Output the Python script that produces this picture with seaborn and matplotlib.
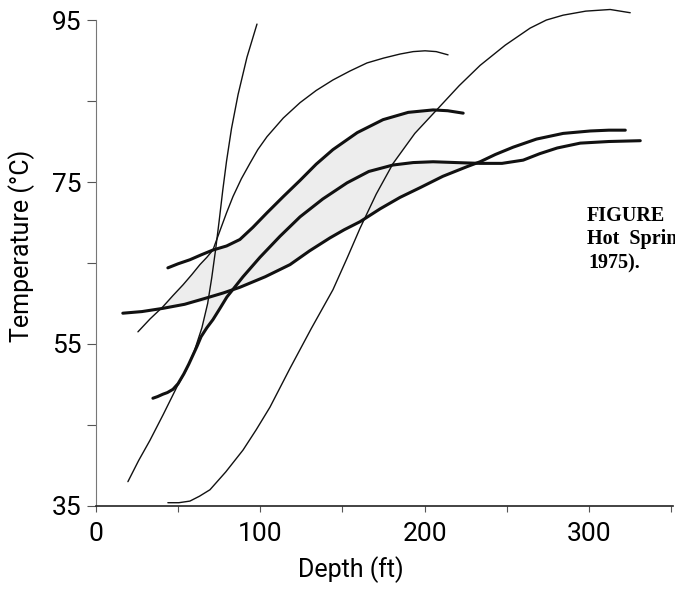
import numpy as np
import pandas as pd
import matplotlib
matplotlib.use('Agg')
import matplotlib.pyplot as plt
from matplotlib.ticker import FixedLocator, MultipleLocator
import seaborn as sns

# temperature profiles (depth ft, temperature C)
steep_x = [19.5, 26.0, 32.9, 41.0, 49.3, 55.0, 60.0, 64.5, 68.0, 70.5, 72.8, 75.0, 77.2, 79.5, 82.5, 86.5, 91.9, 98.0]
steep_y = [38.0, 40.6, 43.1, 46.3, 49.7, 51.8, 54.2, 57.0, 60.0, 63.2, 66.6, 70.2, 74.0, 77.6, 81.6, 85.8, 90.4, 94.5]

arc_x = [25.6, 33.0, 40.8, 47.0, 53.0, 58.5, 63.3, 67.5, 71.2, 75.5, 79.5, 83.4, 88.5, 93.7, 98.5, 104.1,
         114.0, 124.2, 134.0, 144.2, 154.5, 164.9, 175.0, 185.0, 193.0, 200.2, 207.0, 214.2]
arc_y = [56.5, 58.1, 59.6, 61.0, 62.3, 63.6, 64.8, 65.7, 66.6, 69.0, 71.2, 73.2, 75.4, 77.3, 79.0, 80.6,
         82.9, 84.8, 86.3, 87.6, 88.7, 89.7, 90.3, 90.8, 91.1, 91.2, 91.1, 90.7]

deep_x = [43.8, 50.5, 57.2, 63.0, 69.4, 79.0, 89.5, 97.5, 105.9, 112.0, 118.1, 131.0, 144.2, 152.8, 160.7,
          170.5, 180.8, 194.0, 208.2, 221.0, 233.7, 249.0, 264.1, 274.0, 284.2, 298.0, 312.8, 325.0]
deep_y = [35.4, 35.4, 35.6, 36.2, 37.0, 39.2, 41.9, 44.4, 47.2, 49.6, 52.0, 56.9, 61.7, 65.6, 69.3,
          73.5, 77.3, 81.0, 84.1, 86.9, 89.4, 91.9, 94.0, 95.0, 95.6, 96.1, 96.3, 95.9]

top_x = [43.8, 50.0, 57.2, 64.0, 71.2, 79.5, 87.6, 95.5, 104.1, 114.0, 124.2, 134.0, 144.2, 159.0, 174.7,
         190.0, 205.1, 214.0, 223.4]
top_y = [64.4, 64.9, 65.4, 66.0, 66.6, 67.1, 67.9, 69.4, 71.2, 73.2, 75.2, 77.2, 79.0, 81.1, 82.7,
         83.6, 83.9, 83.8, 83.5]

mid_x = [34.7, 37.5, 40.8, 43.5, 46.9, 50.0, 53.5, 56.5, 59.0, 61.5, 64.0, 67.5, 71.2, 75.5, 79.7, 89.5, 99.8,
         112.0, 124.2, 138.0, 152.8, 166.0, 180.8, 193.0, 205.1, 219.0, 233.7, 247.0, 259.9, 270.0, 280.6,
         294.6, 312.0, 331.1]
mid_y = [48.3, 48.5, 48.8, 49.0, 49.4, 50.1, 51.3, 52.5, 53.6, 54.7, 55.9, 57.0, 58.0, 59.4, 60.8, 63.3, 65.7,
         68.3, 70.7, 72.9, 74.9, 76.3, 77.1, 77.4, 77.5, 77.4, 77.3, 77.3, 77.7, 78.5, 79.2,
         79.8, 80.0, 80.1]

low_x = [16.4, 28.0, 40.8, 54.0, 67.6, 77.5, 87.6, 103.0, 118.1, 130.0, 142.4, 151.0, 160.7, 173.0, 185.0,
         197.2, 211.0, 225.8, 233.7, 243.0, 253.8, 268.0, 284.2, 300.7, 312.0, 322.0]
low_y = [58.8, 59.0, 59.4, 59.9, 60.7, 61.3, 62.0, 63.3, 64.8, 66.5, 68.1, 69.1, 70.1, 71.7, 73.1,
         74.3, 75.7, 76.9, 77.5, 78.4, 79.3, 80.3, 81.0, 81.3, 81.4, 81.4]

# outline of the shaded envelope
band_x = [39.0, 53.0, 63.3, 71.2, 79.5, 87.6, 95.5, 104.1, 114.0, 124.2, 134.0, 144.2, 159.0, 174.7, 190.0, 208.2,
          194.0, 180.8, 193.0, 205.1, 219.0, 227.6,
          211.0, 197.2, 185.0, 173.0, 160.7, 151.0, 142.4, 130.0, 118.1, 103.0, 87.6, 83.4, 79.7, 75.5, 71.2,
          67.5, 64.0, 61.5, 64.5, 68.0, 54.0, 40.8]
band_y = [59.4, 62.3, 64.8, 66.6, 67.1, 67.9, 69.4, 71.2, 73.2, 75.2, 77.2, 79.0, 81.1, 82.7, 83.6, 84.1,
          81.0, 77.1, 77.4, 77.5, 77.4, 77.3,
          75.7, 74.3, 73.1, 71.7, 70.1, 69.1, 68.1, 66.5, 64.8, 63.3, 62.0, 61.7, 60.8, 59.4, 58.0,
          57.0, 55.9, 54.7, 57.0, 60.3, 59.9, 59.4]

y_major = [35, 55, 75, 95]
y_minor = [45, 65, 85]

sns.set_style('ticks')
plt.rcParams['font.family'] = ['Roboto', 'DejaVu Sans']

fig = plt.figure(figsize=(6.75, 5.89), dpi=100)
ax = fig.add_axes([0.142, 0.141, 0.855, 0.825])

ax.fill(band_x, band_y, color='#ededed', lw=0, zorder=1)

thin = [(steep_x, steep_y), (arc_x, arc_y), (deep_x, deep_y)]
thick = [(top_x, top_y), (mid_x, mid_y), (low_x, low_y)]
for xs, ys in thin:
    sns.lineplot(x=xs, y=ys, sort=False, estimator=None, color='#111111', lw=1.0, ax=ax, clip_on=False, zorder=3)
for xs, ys in thick:
    sns.lineplot(x=xs, y=ys, sort=False, estimator=None, color='#111111', lw=2.2, ax=ax, clip_on=False, zorder=3)

ax.set_xlim(0, 351)
ax.set_ylim(35, 95)
ax.xaxis.set_major_locator(MultipleLocator(100))
ax.xaxis.set_minor_locator(MultipleLocator(50))
ax.yaxis.set_major_locator(FixedLocator(y_major))
ax.yaxis.set_minor_locator(FixedLocator(y_minor))
ax.tick_params(axis='x', which='both', direction='out', length=4.5, width=0.8, color='#555555',
               labelsize=19, labelcolor='black', pad=7)
ax.tick_params(axis='y', which='both', direction='out', length=6.5, width=0.8, color='#555555',
               labelsize=19, labelcolor='black', pad=4)
sns.despine(ax=ax)
ax.spines['left'].set_color('#777777')
ax.spines['bottom'].set_color('#222222')
ax.spines['bottom'].set_linewidth(1.2)

ax.set_xlabel('Depth (ft)', fontsize=18, color='black')
ax.set_ylabel('Temperature (°C)', fontsize=18, color='black')
ax.xaxis.set_label_coords(0.442, -0.103)
ax.yaxis.set_label_coords(-0.105, 0.535)

cap = dict(family=['Liberation Serif', 'DejaVu Serif'], fontweight='bold', fontsize=14.5,
           color='black', ha='left', va='baseline')
fig.text(587 / 675, 1 - 221 / 589, 'FIGURE', **cap)
fig.text(587 / 675, 1 - 244 / 589, 'Hot  Springs', **cap)
fig.text(588 / 675, 1 - 268 / 589, '1975).', **cap)

plt.savefig('out.png', dpi=100)
